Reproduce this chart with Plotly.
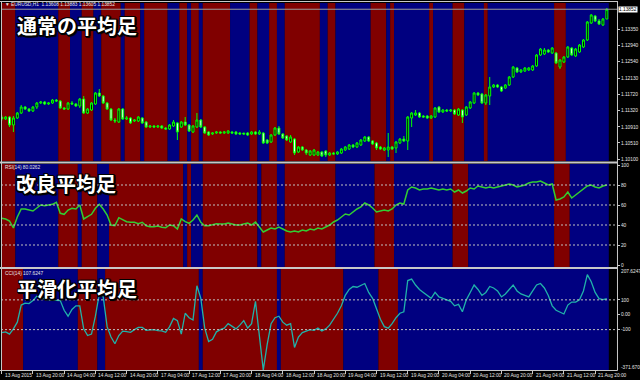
import plotly.graph_objects as go

# ---------------- data ----------------
open_p = [
 1.11158,1.11108,1.11158,1.10958,1.11133,1.11258,1.11408,1.11358,1.11308,1.11408,
 1.11508,1.11533,1.11483,1.11508,1.11583,1.11558,1.11383,1.11358,1.11508,1.11483,
 1.11433,1.11608,1.11258,1.11333,1.11483,1.11758,1.11683,1.11508,1.11358,1.11083,
 1.11033,1.11358,1.11108,1.11133,1.11058,1.11058,1.11133,1.11033,1.10908,1.10933,
 1.10908,1.10933,1.10883,1.10858,1.10933,1.11008,1.10908,1.11033,1.10958,1.10783,
 1.10908,1.11083,1.10908,1.10783,1.10733,1.10758,1.10783,1.10758,1.10758,1.10783,
 1.10783,1.10758,1.10758,1.10758,1.10733,1.10783,1.10733,1.10758,1.10583,1.10533,
 1.10708,1.10883,1.10733,1.10683,1.10533,1.10608,1.10283,1.10408,1.10333,1.10208,
 1.10208,1.10208,1.10283,1.10308,1.10208,1.10258,1.10233,1.10258,1.10333,1.10358,
 1.10458,1.10408,1.10458,1.10558,1.10658,1.10558,1.10508,1.10408,1.10333,1.10333,
 1.10408,1.10383,1.10508,1.10608,1.10558,1.11133,1.11208,1.11258,1.11183,1.11183,
 1.11133,1.11158,1.11408,1.11283,1.11333,1.11308,1.11333,1.11208,1.11333,1.11208,
 1.11383,1.11508,1.11758,1.11733,1.11508,1.11683,1.11908,1.11958,1.11908,1.11883,
 1.11958,1.12158,1.12383,1.12283,1.12308,1.12333,1.12333,1.12433,1.12708,1.12733,
 1.12833,1.12758,1.12758,1.12408,1.12533,1.12658,1.12883,1.12683,1.12783,1.12908,
 1.13083,1.13508,1.13683,1.13558,1.13458,1.13608]
close_p = [
 1.11108,1.11158,1.10958,1.11133,1.11258,1.11408,1.11358,1.11308,1.11408,1.11508,
 1.11533,1.11483,1.11508,1.11583,1.11558,1.11383,1.11358,1.11508,1.11483,1.11433,
 1.11608,1.11258,1.11358,1.11508,1.11758,1.11683,1.11508,1.11358,1.11083,1.11058,
 1.11358,1.11108,1.11133,1.11008,1.11083,1.11158,1.11008,1.10908,1.10933,1.10908,
 1.10933,1.10883,1.10858,1.10958,1.11033,1.10783,1.11033,1.10958,1.10808,1.10933,
 1.11083,1.10908,1.10758,1.10708,1.10758,1.10783,1.10758,1.10783,1.10808,1.10758,
 1.10733,1.10733,1.10733,1.10708,1.10783,1.10733,1.10783,1.10508,1.10508,1.10708,
 1.10883,1.10733,1.10633,1.10583,1.10658,1.10258,1.10408,1.10333,1.10258,1.10308,
 1.10333,1.10283,1.10183,1.10208,1.10258,1.10233,1.10283,1.10358,1.10408,1.10458,
 1.10408,1.10508,1.10583,1.10658,1.10558,1.10483,1.10383,1.10358,1.10383,1.10408,
 1.10358,1.10533,1.10608,1.10558,1.11158,1.11258,1.11258,1.11158,1.11158,1.11133,
 1.11183,1.11383,1.11283,1.11333,1.11308,1.11333,1.11233,1.11358,1.11158,1.11408,
 1.11533,1.11758,1.11708,1.11508,1.11708,1.11908,1.11958,1.11908,1.11808,1.11958,
 1.12158,1.12408,1.12283,1.12333,1.12383,1.12383,1.12433,1.12708,1.12858,1.12833,
 1.12783,1.12883,1.12508,1.12583,1.12658,1.12908,1.12708,1.12858,1.12958,1.13083,
 1.13533,1.13708,1.13558,1.13483,1.13608,1.13852]
high_p = [
 1.11208,1.11183,1.11183,1.11183,1.11283,1.11458,1.11433,1.11383,1.11433,1.11533,
 1.11558,1.11558,1.11533,1.11608,1.11608,1.11583,1.11408,1.11533,1.11558,1.11508,
 1.11633,1.11683,1.11383,1.11533,1.11783,1.11858,1.11708,1.11533,1.11383,1.11133,
 1.11383,1.11383,1.11183,1.11158,1.11108,1.11183,1.11158,1.11058,1.10958,1.10958,
 1.10958,1.10958,1.10908,1.10983,1.11083,1.11033,1.11058,1.11158,1.10983,1.10958,
 1.11258,1.11108,1.10933,1.10808,1.10783,1.10808,1.10808,1.10808,1.10833,1.10808,
 1.10808,1.10783,1.10758,1.10783,1.10808,1.10808,1.10833,1.10783,1.10608,1.10733,
 1.10908,1.10933,1.10758,1.10708,1.10708,1.10633,1.10433,1.10433,1.10358,1.10333,
 1.10358,1.10308,1.10308,1.10333,1.10283,1.10283,1.10308,1.10383,1.10433,1.10483,
 1.10483,1.10533,1.10608,1.10683,1.10683,1.10583,1.10533,1.10433,1.10408,1.10758,
 1.10433,1.10558,1.10633,1.10683,1.11183,1.11283,1.11333,1.11283,1.11208,1.11208,
 1.11208,1.11408,1.11433,1.11358,1.11358,1.11358,1.11358,1.11383,1.11358,1.11433,
 1.11558,1.11783,1.11783,1.11758,1.11733,1.12158,1.11983,1.11983,1.11933,1.11983,
 1.12183,1.12433,1.12408,1.12358,1.12408,1.12408,1.12458,1.12733,1.12883,1.12883,
 1.12858,1.12908,1.12783,1.12608,1.12683,1.12933,1.12908,1.12883,1.12983,1.13108,
 1.13558,1.13733,1.13708,1.13608,1.13633,1.13883]
low_p = [
 1.11058,1.11083,1.10908,1.10783,1.11108,1.11233,1.11333,1.11283,1.11283,1.11358,
 1.11483,1.11458,1.11458,1.11483,1.11533,1.11358,1.11333,1.11333,1.11458,1.11408,
 1.11383,1.11233,1.11233,1.11308,1.11458,1.11658,1.11483,1.11333,1.11058,1.11008,
 1.11008,1.11083,1.11083,1.10983,1.11033,1.11033,1.10983,1.10883,1.10883,1.10883,
 1.10883,1.10858,1.10833,1.10833,1.10908,1.10583,1.10883,1.10933,1.10783,1.10758,
 1.10883,1.10883,1.10733,1.10683,1.10708,1.10733,1.10733,1.10733,1.10733,1.10733,
 1.10708,1.10708,1.10708,1.10683,1.10708,1.10708,1.10708,1.10483,1.10483,1.10508,
 1.10683,1.10708,1.10608,1.10558,1.10508,1.10208,1.10258,1.10308,1.10208,1.10183,
 1.10183,1.10183,1.10158,1.10158,1.10183,1.10208,1.10208,1.10233,1.10308,1.10333,
 1.10383,1.10383,1.10433,1.10533,1.10533,1.10458,1.10333,1.10333,1.10308,1.10158,
 1.10333,1.10258,1.10483,1.10533,1.10333,1.10908,1.11183,1.11133,1.11133,1.11108,
 1.11108,1.11133,1.11258,1.11258,1.11283,1.11283,1.11208,1.11183,1.11008,1.11183,
 1.11358,1.11483,1.11683,1.11483,1.11458,1.11458,1.11883,1.11883,1.11783,1.11858,
 1.11933,1.12133,1.12258,1.12258,1.12283,1.12308,1.12308,1.12408,1.12683,1.12708,
 1.12758,1.12733,1.12483,1.12358,1.12508,1.12633,1.12683,1.12658,1.12758,1.12883,
 1.13058,1.13483,1.13533,1.13458,1.13433,1.13605]

rsi = [
 46.7,46,44,37,48,56,56,55,54,57,
 60,59.3,60,60.7,62.7,51.7,50.7,55,56.7,56,
 60,46,48.3,50.7,56.7,60.7,56,50,40,39.3,
 47.3,45,43.3,42.7,42.7,41.3,42.7,39.3,38.3,38.3,
 39,37.7,37.3,40,39.3,36,46,43.3,41.7,45,
 50,42.7,39.3,39.3,40,41.3,41,41,42,41,
 40,40,41,42,40,43,38,33,35,37,
 36,38,36,34,33,34,33,35,34,36,
 35,37,36,38,40,43,45,48,51,50,
 53,56,58,62,60,57,53,54,55,54,
 56,60,62,61,75,78,77,75,76,76,
 77,76,75,76,75,76,73,75,72,74,
 77,76,79,78,77,78,77,78,79,80,
 81,80,78,79,80,82,83,83,84,82,
 80,81,65,66,68,73,67,70,73,76,
 79,80,78,77,79,80.0262]

cci = [
 -120,-115,-130,-95,-50,65,78,75,95,125,
 120,105,100,100,100,95,30,-10,35,60,
 60,-95,-140,-130,-10,140,120,-80,-150,-195,
 -140,-110,-113,-118,-100,-85,-85,-105,-102,-100,
 -107,-108,-118,-80,-25,-40,-130,10,-20,-35,
 195,110,-90,-180,-165,-115,-100,-90,-60,-80,
 -95,-70,-40,-90,-60,90,-150,-371.67,-200,-60,
 -20,-10,-50,-70,-60,-220,-150,-120,-110,-100,
 -105,-90,-110,-95,-70,-30,10,60,130,170,
 190,185,200,210,150,110,40,-30,-80,-90,
 -60,-20,10,20,230,240,200,170,150,130,
 110,150,120,110,100,90,60,70,20,100,
 150,200,170,130,150,190,180,160,120,140,
 170,200,160,140,130,120,160,200,210,180,
 130,60,30,15,5,65,85,85,100,160,
 270,222,150,108,102,107.6247]

# background bands: run lengths (bars), colours alternate starting with red
main_runs = [4,11,3,3,3,2,5,1,4,1,6,3,2,1,2,1,7,5,2,3,2,2,9,2,2,9,4,1,1,9,1,5,3,5,1,17,3,11]
rsi_runs = [4,11,5,1,4,3,19,1,1,3,14,1,4,2,13,10,5,15,4,22,4,10]
cci_runs = [6,14,5,2,24,1,19,1,16,9,5,54]

price_ticks = [1.13350,1.12940,1.12540,1.12130,1.11720,1.11320,1.10910,1.10510,1.10100]
rsi_levels = [80,60,40,20]
rsi_ticks = [100,80,60,40,20,0]
cci_levels = [100,-100]
cci_ticks = [100,0,-100]
cci_ticktext = ["100","0.00","-100"]
cci_max_label = "207.6247"
cci_min_label = "-371.6700"
time_labels = ["13 Aug 2015","13 Aug 20:00","14 Aug 04:00","14 Aug 12:00","14 Aug 20:00",
               "17 Aug 04:00","17 Aug 12:00","17 Aug 20:00","18 Aug 04:00","18 Aug 12:00",
               "18 Aug 20:00","19 Aug 04:00","19 Aug 12:00","19 Aug 20:00","20 Aug 04:00",
               "20 Aug 12:00","20 Aug 20:00","21 Aug 04:00","21 Aug 12:00","21 Aug 20:00"]
time_label_bars = [0,8,16,24,32,40,48,56,64,72,80,88,96,104,112,120,128,136,144,152]
header = "▼ EURUSD,H1  1.13608 1.13883 1.13605 1.13852"
bid = 1.13852

# ---------------- figure ----------------
W, H = 640, 380
ML, MR, MT, MB = 1, 21, 2, 10
PW, PH = W - ML - MR, H - MT - MB


def px_x(px):
    return (px - ML) / PW


def px_y(py):
    return (H - MB - py) / PH


BLUE, RED = "#000080", "#800000"
FG = "#C8C8C8"
SMALL = dict(family="Liberation Sans", size=4.8, color="#E6E6E6")
x = list(range(len(close_p)))
XR = [-0.18, 157.6]

fig = go.Figure()
fig.add_trace(go.Candlestick(
    x=x, open=open_p, high=high_p, low=low_p, close=close_p, xaxis="x", yaxis="y",
    increasing=dict(line=dict(color="#00FF00", width=1), fillcolor="#000000"),
    decreasing=dict(line=dict(color="#00FF00", width=1), fillcolor="#FFFFFF"),
    whiskerwidth=0, hoverinfo="skip"))
fig.add_trace(go.Scatter(x=x, y=rsi, xaxis="x2", yaxis="y2", mode="lines",
                         line=dict(color="#32CD32", width=1.5), hoverinfo="skip"))
fig.add_trace(go.Scatter(x=x, y=cci, xaxis="x3", yaxis="y3", mode="lines",
                         line=dict(color="#20B2AA", width=1.3), hoverinfo="skip"))

shapes = []


def bands(runs, xref, yref):
    start, col = 0, RED
    for n in runs:
        shapes.append(dict(type="rect", xref=xref, yref=yref + " domain",
                           x0=start - 0.5, x1=start + n - 0.5, y0=0, y1=1,
                           fillcolor=col, line=dict(width=0), layer="below"))
        start += n
        col = BLUE if col == RED else RED


bands(main_runs, "x", "y")
bands(rsi_runs, "x2", "y2")
bands(cci_runs, "x3", "y3")

for lv in rsi_levels:
    shapes.append(dict(type="line", xref="paper", x0=0, x1=1, yref="y2", y0=lv, y1=lv,
                       line=dict(color="#C0C0C0", width=1, dash="2px,2px")))
for lv in cci_levels:
    shapes.append(dict(type="line", xref="paper", x0=0, x1=1, yref="y3", y0=lv, y1=lv,
                       line=dict(color="#C0C0C0", width=1, dash="2px,2px")))
# bid line
shapes.append(dict(type="line", xref="paper", x0=0, x1=1, yref="y", y0=bid, y1=bid,
                   line=dict(color="#9A9A9A", width=1)))
# frame and separators
shapes += [
    dict(type="line", xref="paper", yref="paper", x0=px_x(0), x1=px_x(619.5), y0=px_y(1.5), y1=px_y(1.5), line=dict(color=FG, width=1)),
    dict(type="line", xref="paper", yref="paper", x0=px_x(1.5), x1=px_x(1.5), y0=px_y(1), y1=px_y(370.5), line=dict(color=FG, width=1)),
    dict(type="line", xref="paper", yref="paper", x0=px_x(619.5), x1=px_x(619.5), y0=px_y(1), y1=px_y(370.5), line=dict(color=FG, width=1)),
    dict(type="line", xref="paper", yref="paper", x0=px_x(0), x1=px_x(619.5), y0=px_y(370.5), y1=px_y(370.5), line=dict(color=FG, width=1)),
    dict(type="line", xref="paper", yref="paper", x0=px_x(0), x1=px_x(619.5), y0=px_y(162.5), y1=px_y(162.5), line=dict(color=FG, width=2)),
    dict(type="line", xref="paper", yref="paper", x0=px_x(0), x1=px_x(619.5), y0=px_y(268), y1=px_y(268), line=dict(color=FG, width=2)),
]

ann = []
shadow = ("2px 2px 1px #000, -1px -1px 0 #000, 1px -1px 0 #000, -1px 1px 0 #000, "
          "1px 1px 0 #000, 2px 0 0 #000, 0 2px 0 #000")
for txt, xp, yp in [("通常の平均足", 15, 25), ("改良平均足", 14, 183), ("平滑化平均足", 15, 288)]:
    ann.append(dict(text=txt, xref="paper", yref="paper", x=px_x(xp), y=px_y(yp),
                    xanchor="left", yanchor="middle", showarrow=False,
                    font=dict(family="Noto Sans CJK JP", size=20, color="white",
                              weight="bold", shadow=shadow)))
for txt, yp in [(header, 5), ("RSI(14) 80.0262", 167.5), ("CCI(14) 107.6247", 273)]:
    ann.append(dict(text=txt, xref="paper", yref="paper", x=px_x(3), y=px_y(yp),
                    xanchor="left", yanchor="middle", showarrow=False, font=SMALL))
# bid price box
ann.append(dict(text="%.5f" % bid, xref="paper", yref="y", x=1, y=bid, xshift=1,
                xanchor="left", yanchor="middle", showarrow=False, bgcolor="white",
                borderpad=0, font=dict(family="Liberation Sans", size=4.8, color="black")))
# CCI window max/min labels
ann.append(dict(text=cci_max_label, xref="paper", yref="paper", x=1, y=px_y(271.5), xshift=2,
                xanchor="left", yanchor="middle", showarrow=False, font=SMALL))
ann.append(dict(text=cci_min_label, xref="paper", yref="paper", x=1, y=px_y(367.5), xshift=2,
                xanchor="left", yanchor="middle", showarrow=False, font=SMALL))
# time labels
for b, t in zip(time_label_bars, time_labels):
    ann.append(dict(text=t, xref="x3", yref="paper", x=b, y=px_y(375.5), xshift=1,
                    xanchor="left", yanchor="middle", showarrow=False, font=SMALL))

common_x = dict(range=XR, domain=[0, 1], type="linear", showgrid=False, zeroline=False,
                showline=False, fixedrange=True)
common_y = dict(side="right", showgrid=False, zeroline=False, showline=False,
                ticks="outside", ticklen=2, tickcolor=FG, tickfont=SMALL, fixedrange=True)

fig.update_layout(
    width=W, height=H, margin=dict(l=ML, r=MR, t=MT, b=MB),
    paper_bgcolor="black", plot_bgcolor="black", showlegend=False,
    xaxis=dict(common_x, anchor="y", showticklabels=False, rangeslider=dict(visible=False)),
    xaxis2=dict(common_x, anchor="y2", showticklabels=False),
    xaxis3=dict(common_x, anchor="y3", showticklabels=False, ticks="outside",
                tickvals=time_label_bars, ticklen=3, tickcolor=FG),
    yaxis=dict(common_y, anchor="x", domain=[px_y(161), px_y(3)], range=[1.10058, 1.14008],
               tickvals=price_ticks, ticktext=["%.5f" % v for v in price_ticks]),
    yaxis2=dict(common_y, anchor="x2", domain=[px_y(267), px_y(164)], range=[-2, 101],
                tickvals=rsi_ticks, ticktext=[str(v) for v in rsi_ticks]),
    yaxis3=dict(common_y, anchor="x3", domain=[px_y(370), px_y(269)], range=[-371.67, 307.62],
                tickvals=cci_ticks, ticktext=cci_ticktext),
    shapes=shapes, annotations=ann,
)

fig.write_html("out.html")
